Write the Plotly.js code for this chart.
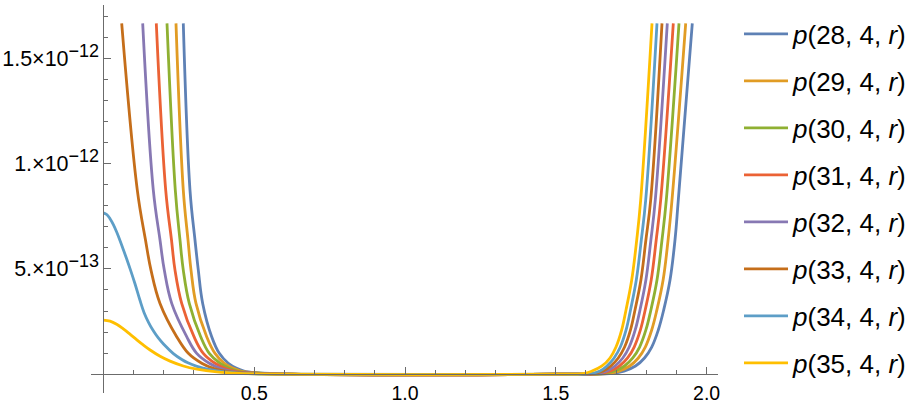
<!DOCTYPE html>
<html>
<head>
<meta charset="utf-8">
<script src="https://cdn.plot.ly/plotly-3.0.1.min.js"></script>
<style>html,body{margin:0;padding:0;background:#fff;}#chart{width:922px;height:404px;}</style>
</head>
<body>
<div id="chart"></div>
<script>
// values in units of 1e-12
const SCALE = 1e-12;
const seriesNames = ['28','29','30','31','32','33','34','35'];
const colors = ['#5E81B5','#E19C24','#8FB032','#EB6235','#8778B3','#C56E1A','#5D9EC7','#FFBF00'];

// shared value levels
const leftLevels  = [1.665, 0.874, 0.637, 0.494, 0.336, 0.178, 0.099, 0.052, 0.028, 0.015, 0.007];
const rightLevels = [0.003, 0.015, 0.039, 0.077, 0.129, 0.210, 0.305, 0.447, 0.637, 0.827, 1.665];
const flatR = [0.62, 1.5];
const flatV = [0, 0];

// r positions where each curve passes the levels above
const left28  = [0.2649, 0.2871, 0.3037, 0.3147, 0.3292, 0.3591, 0.3843, 0.4141, 0.4420, 0.4662, 0.5060];
const right28 = [1.6797, 1.7261, 1.7643, 1.7941, 1.8180, 1.8399, 1.8578, 1.8787, 1.8952, 1.9062, 1.9526];
const left29  = [0.2407, 0.2649, 0.2805, 0.2905, 0.3070, 0.3425, 0.3700, 0.4009, 0.4307, 0.4552, 0.4960];
const right29 = [1.6664, 1.7099, 1.7450, 1.7736, 1.7968, 1.8180, 1.8352, 1.8558, 1.8723, 1.8853, 1.9307];
const left30  = [0.2109, 0.2384, 0.2540, 0.2649, 0.2848, 0.3226, 0.3511, 0.3866, 0.4174, 0.4440, 0.4861];
const right30 = [1.6548, 1.6953, 1.7278, 1.7553, 1.7779, 1.7987, 1.8153, 1.8355, 1.8521, 1.8664, 1.9085];
const left31  = [0.1754, 0.2066, 0.2258, 0.2374, 0.2596, 0.3004, 0.3312, 0.3700, 0.4032, 0.4330, 0.4761];
const right31 = [1.6439, 1.6817, 1.7115, 1.7381, 1.7599, 1.7805, 1.7964, 1.8163, 1.8329, 1.8478, 1.8896];
const left32  = [0.1303, 0.1655, 0.1877, 0.2019, 0.2265, 0.2762, 0.3094, 0.3511, 0.3866, 0.4198, 0.4662];
const right32 = [1.6336, 1.6691, 1.6963, 1.7222, 1.7434, 1.7633, 1.7792, 1.7987, 1.8153, 1.8299, 1.8697];
const left33  = [0.0607, 0.1124, 0.1396, 0.1578, 0.1877, 0.2430, 0.2815, 0.3259, 0.3644, 0.4032, 0.4529];
const right33 = [1.6244, 1.6575, 1.6824, 1.7072, 1.7281, 1.7477, 1.7626, 1.7822, 1.7987, 1.8147, 1.8521];
const right34 = [1.6154, 1.6466, 1.6694, 1.6933, 1.7139, 1.7331, 1.7477, 1.7669, 1.7835, 1.7981, 1.8355];
const right35 = [1.5902, 1.6200, 1.6532, 1.6797, 1.6996, 1.7185, 1.7328, 1.7517, 1.7683, 1.7815, 1.8190];

// curves 34 and 35 start below the top at r = 0
const left34R = [0, 0.011, 0.022, 0.033, 0.044, 0.055, 0.066, 0.077, 0.090, 0.105, 0.121, 0.135, 0.150, 0.165, 0.182, 0.2, 0.232, 0.26, 0.28, 0.31, 0.33, 0.376, 0.43, 0.5];
const left34V = [0.766, 0.758, 0.738, 0.71, 0.675, 0.635, 0.592, 0.548, 0.494, 0.428, 0.352, 0.292, 0.245, 0.207, 0.172, 0.142, 0.098, 0.07, 0.054, 0.037, 0.029, 0.016, 0.0075, 0.002];
const left35R = [0, 0.022, 0.044, 0.066, 0.088, 0.11, 0.132, 0.155, 0.188, 0.221, 0.265, 0.31, 0.376, 0.45];
const left35V = [0.257, 0.252, 0.237, 0.215, 0.19, 0.164, 0.139, 0.115, 0.085, 0.062, 0.039, 0.024, 0.011, 0.004];

const xTickVals = [0.5, 1.0, 1.5, 2.0];
const xTickText = ['0.5', '1.0', '1.5', '2.0'];
const yTickVals = [5e-13, 1e-12, 1.5e-12];
const supStyle = '<span style="font-size:18px">';
const yTickText = [
  '5.×10<sup>' + supStyle + '−13</span></sup>',
  '1.×10<sup>' + supStyle + '−12</span></sup>',
  '1.5×10<sup>' + supStyle + '−12</span></sup>'
];

const lefts = {
  '28': [left28, leftLevels], '29': [left29, leftLevels], '30': [left30, leftLevels],
  '31': [left31, leftLevels], '32': [left32, leftLevels], '33': [left33, leftLevels],
  '34': [left34R, left34V], '35': [left35R, left35V]
};
const rights = {'28': right28, '29': right29, '30': right30, '31': right31, '32': right32, '33': right33, '34': right34, '35': right35};

const traces = seriesNames.map((n, i) => {
  const [lr, lv] = lefts[n];
  const x = lr.concat(flatR, rights[n]);
  const y = lv.concat(flatV, rightLevels).map(v => v * SCALE);
  return {
    x: x, y: y, type: 'scatter', mode: 'lines',
    name: '<i>p</i>(' + n + ', 4, <i>r</i>)',
    legendgroup: 'g' + n,
    line: {color: colors[i], width: 2.8, shape: 'spline', smoothing: 1.1},
    hoverinfo: 'skip'
  };
});

const axisColor = '#6b6b6b';
const layout = {
  width: 922, height: 404,
  margin: {l: 91, r: 204, t: 5, b: 11, pad: 0},
  paper_bgcolor: '#fff', plot_bgcolor: '#fff',
  font: {family: 'Liberation Sans, Arial, sans-serif', color: '#000'},
  showlegend: true,
  legend: {
    x: 1.0335, xanchor: 'left', y: 0.986, yanchor: 'top',
    itemwidth: 44,
    font: {family: 'Liberation Sans, Arial, sans-serif', size: 26, color: '#000'},
    tracegroupgap: 10.2, bgcolor: 'rgba(0,0,0,0)', borderwidth: 0
  },
  xaxis: {
    range: [-0.0411, 2.0378], anchor: 'free', position: 0.0485,
    showline: true, linecolor: axisColor, linewidth: 1,
    showgrid: false, zeroline: false,
    tickmode: 'array', tickvals: xTickVals, ticktext: xTickText,
    ticks: 'inside', ticklen: 7, tickwidth: 1, tickcolor: axisColor,
    ticklabelstandoff: 1,
    tickfont: {size: 19.5, color: '#000'},
    minor: {tickmode: 'linear', tick0: 0, dtick: 0.1, ticks: 'inside', ticklen: 4, tickwidth: 1, tickcolor: axisColor, showgrid: false}
  },
  yaxis: {
    range: [-0.0892e-12, 1.7523e-12], anchor: 'free', position: 0.0198,
    showline: true, linecolor: axisColor, linewidth: 1,
    showgrid: false, zeroline: false,
    tickmode: 'array', tickvals: yTickVals, ticktext: yTickText,
    ticks: 'inside', ticklen: 7, tickwidth: 1, tickcolor: axisColor,
    tickfont: {size: 21.5, color: '#000'},
    minor: {tickmode: 'linear', tick0: 0, dtick: 1e-13, ticks: 'inside', ticklen: 4, tickwidth: 1, tickcolor: axisColor, showgrid: false}
  }
};

Plotly.newPlot('chart', traces, layout, {staticPlot: true, displayModeBar: false});
</script>
</body>
</html>
